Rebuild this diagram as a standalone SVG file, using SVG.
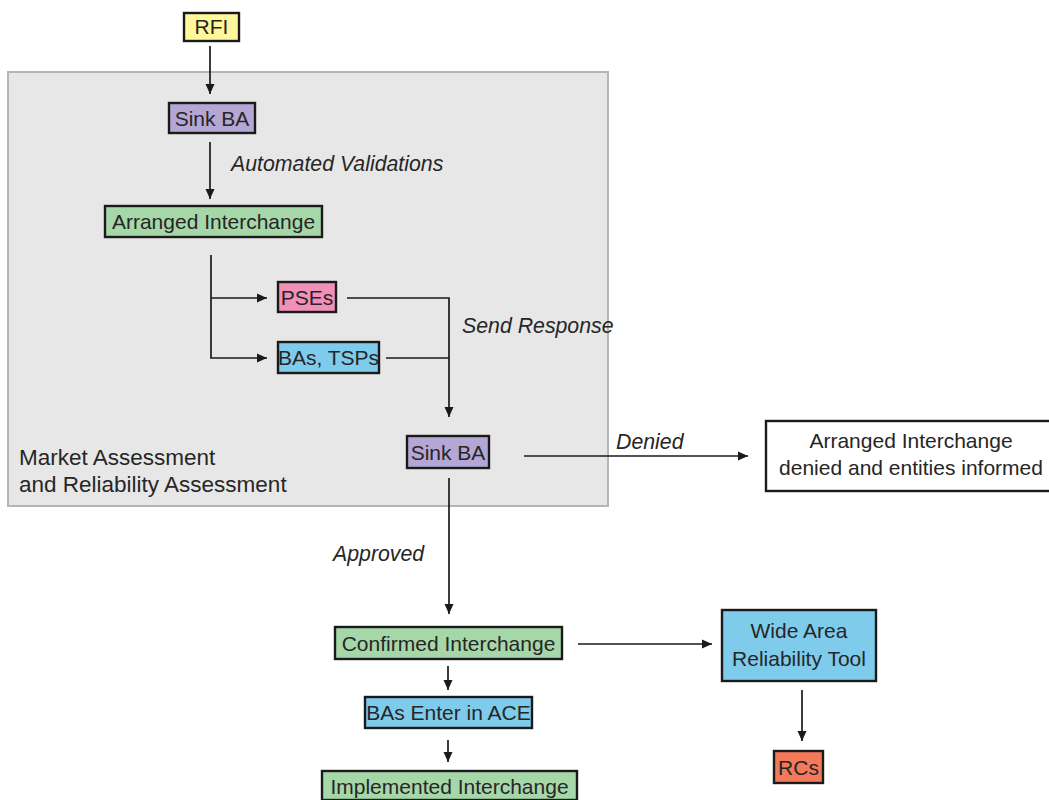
<svg xmlns="http://www.w3.org/2000/svg" width="1049" height="800" viewBox="0 0 1049 800">
<defs>
<marker id="ah" viewBox="0 0 10 10" refX="10" refY="5" markerWidth="10" markerHeight="10" markerUnits="userSpaceOnUse" orient="auto">
<path d="M0,0.5 L10,5 L0,9.5 z" fill="#1a1a1a"/>
</marker>
<style>
.box{stroke:#1a1a1a;stroke-width:2.4}
.t{font-family:"Liberation Sans",Arial,sans-serif;font-size:21px;fill:#262626;text-anchor:middle}
.lbl{font-family:"Liberation Sans",Arial,sans-serif;font-size:21.3px;font-style:italic;fill:#262626}
.c{fill:none;stroke:#1a1a1a;stroke-width:1.7}
.yel{fill:#fff799}.pur{fill:#b4a7d6}.grn{fill:#a6d7a9}.pnk{fill:#f290b9}.blu{fill:#7ecbec}.org{fill:#f4795b}.wht{fill:#ffffff}
</style>
</defs>
<rect width="1049" height="800" fill="#ffffff"/>
<g id="panel">
<rect x="8" y="72" width="600" height="434" fill="#e7e7e7" stroke="#b5b5b5" stroke-width="2"/>
<text x="19" y="465" font-family="Liberation Sans, Arial, sans-serif" font-size="22.5" fill="#262626">Market Assessment</text>
<text x="19" y="492" font-family="Liberation Sans, Arial, sans-serif" font-size="22.5" fill="#262626">and Reliability Assessment</text>
</g>
<g id="connectors">
<line class="c" x1="210" y1="46" x2="210" y2="94" marker-end="url(#ah)"/>
<line class="c" x1="210" y1="142" x2="210" y2="199" marker-end="url(#ah)"/>
<polyline class="c" points="211,255 211,358 267,358" marker-end="url(#ah)"/>
<line class="c" x1="211" y1="298" x2="267" y2="298" marker-end="url(#ah)"/>
<polyline class="c" points="347,298 449,298 449,417" marker-end="url(#ah)"/>
<line class="c" x1="386" y1="358" x2="449" y2="358"/>
<line class="c" x1="524" y1="456" x2="748" y2="456" marker-end="url(#ah)"/>
<line class="c" x1="449" y1="478" x2="449" y2="614" marker-end="url(#ah)"/>
<line class="c" x1="448" y1="666" x2="448" y2="690" marker-end="url(#ah)"/>
<line class="c" x1="448" y1="740" x2="448" y2="762" marker-end="url(#ah)"/>
<line class="c" x1="578" y1="644" x2="712" y2="644" marker-end="url(#ah)"/>
<line class="c" x1="802" y1="690" x2="802" y2="741" marker-end="url(#ah)"/>
<text class="lbl" x="231" y="171">Automated Validations</text>
<text class="lbl" x="462" y="333">Send Response</text>
<text class="lbl" x="616" y="449">Denied</text>
<text class="lbl" x="333" y="561">Approved</text>
</g>
<g id="rfi"><rect class="box yel" x="184" y="13" width="55" height="28"/><text class="t" x="211.5" y="34">RFI</text></g>
<g id="sinkba1"><rect class="box pur" x="169" y="103" width="86" height="30"/><text class="t" x="212" y="125.5">Sink BA</text></g>
<g id="arranged"><rect class="box grn" x="105" y="206" width="217" height="31"/><text class="t" x="213.5" y="229">Arranged Interchange</text></g>
<g id="pses"><rect class="box pnk" x="278" y="282" width="58" height="30"/><text class="t" x="307" y="304.5">PSEs</text></g>
<g id="bastsps"><rect class="box blu" x="278" y="342" width="101" height="31"/><text class="t" x="328.5" y="365">BAs, TSPs</text></g>
<g id="sinkba2"><rect class="box pur" x="407" y="436" width="82" height="32"/><text class="t" x="448" y="459.5">Sink BA</text></g>
<g id="denied"><rect class="box wht" x="766" y="421" width="290" height="70"/><text class="t" x="911" y="448">Arranged Interchange</text><text class="t" x="911" y="475">denied and entities informed</text></g>
<g id="confirmed"><rect class="box grn" x="335" y="627" width="227" height="32"/><text class="t" x="448.5" y="650.5">Confirmed Interchange</text></g>
<g id="baenter"><rect class="box blu" x="365" y="697" width="167" height="31"/><text class="t" x="448.5" y="720">BAs Enter in ACE</text></g>
<g id="implemented"><rect class="box grn" x="322" y="771" width="255" height="29"/><text class="t" x="449.5" y="794">Implemented Interchange</text></g>
<g id="wart"><rect class="box blu" x="722" y="610" width="154" height="71"/><text class="t" x="799" y="638">Wide Area</text><text class="t" x="799" y="666">Reliability Tool</text></g>
<g id="rcs"><rect class="box org" x="774" y="751" width="49" height="32"/><text class="t" x="798.5" y="774.5">RCs</text></g>
</svg>
